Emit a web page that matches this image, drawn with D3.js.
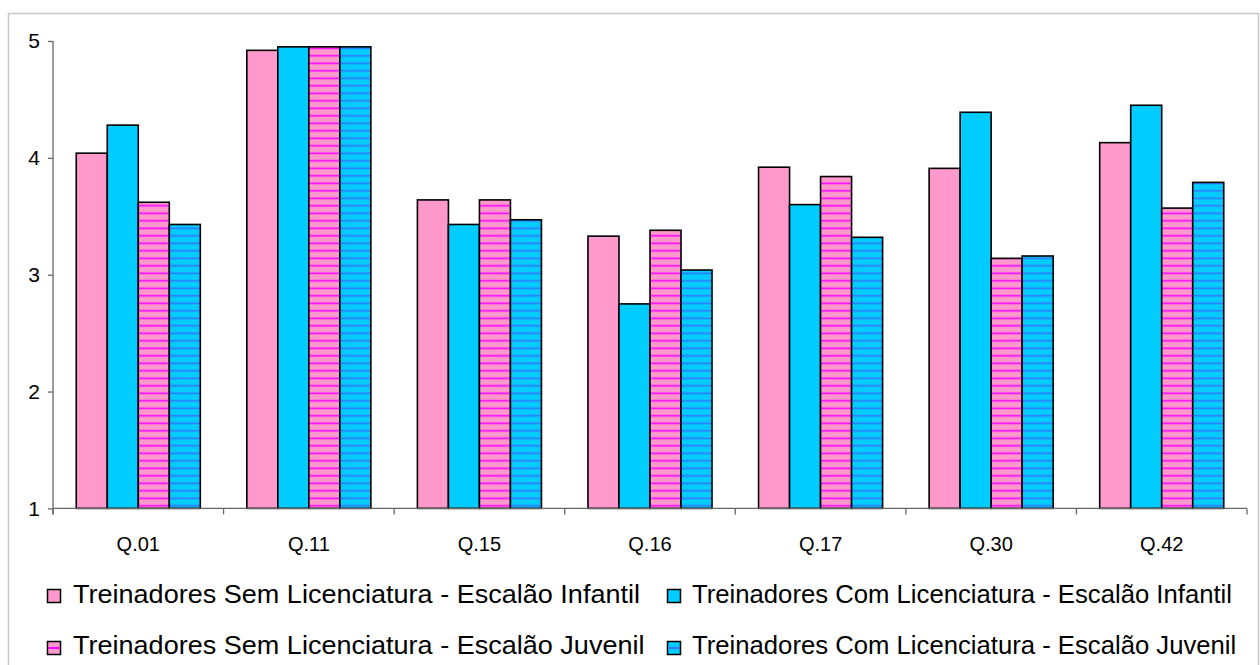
<!DOCTYPE html>
<html>
<head>
<meta charset="utf-8">
<script src="https://cdn.jsdelivr.net/npm/d3@7/dist/d3.min.js"></script>
<style>
  html, body { margin: 0; padding: 0; background: #fff; }
  svg { display: block; font-family: "Liberation Sans", Arial, sans-serif; }
</style>
</head>
<body>
<svg id="chart" width="1260" height="665"></svg>
<script>
// Questions on the x axis
const categories = ["Q.01", "Q.11", "Q.15", "Q.16", "Q.17", "Q.30", "Q.42"];

// Mean scores per group of coaches
const semInfantil = [4.04, 4.92, 3.64, 3.33, 3.92, 3.91, 4.13];
const comInfantil = [4.28, 4.95, 3.43, 2.75, 3.60, 4.39, 4.45];
const semJuvenil  = [3.62, 4.95, 3.64, 3.38, 3.84, 3.14, 3.57];
const comJuvenil  = [3.43, 4.95, 3.47, 3.04, 3.32, 3.16, 3.79];

const seriesNames = [
  "Treinadores Sem Licenciatura - Escalão Infantil",
  "Treinadores Com Licenciatura - Escalão Infantil",
  "Treinadores Sem Licenciatura - Escalão Juvenil",
  "Treinadores Com Licenciatura - Escalão Juvenil"
];

const yTicks = [1, 2, 3, 4, 5];

const series = [
  { key: "s0", name: seriesNames[0], values: semInfantil, fill: "#FF99CC" },
  { key: "s1", name: seriesNames[1], values: comInfantil, fill: "#00CCFF" },
  { key: "s2", name: seriesNames[2], values: semJuvenil,  fill: "url(#stripePink)" },
  { key: "s3", name: seriesNames[3], values: comJuvenil,  fill: "url(#stripeBlue)" }
];

const svg = d3.select("#chart");

// Horizontal stripe patterns for the "Escalão Juvenil" series
const defs = svg.append("defs");
function stripe(id, base, line) {
  const p = defs.append("pattern")
    .attr("id", id)
    .attr("patternUnits", "userSpaceOnUse")
    .attr("width", 8).attr("height", 7.5);
  p.append("rect").attr("width", 8).attr("height", 7.5).attr("fill", base);
  p.append("rect").attr("y", 2.5).attr("width", 8).attr("height", 1.6).attr("fill", line);
}
stripe("stripePink", "#FF99CC", "#FF00FF");
stripe("stripeBlue", "#00CCFF", "#3377FF");

// Outer chart frame
svg.append("rect")
  .attr("x", 8.5).attr("y", 13.5)
  .attr("width", 1250).attr("height", 660)
  .attr("fill", "none")
  .attr("stroke", "#C8C8C8")
  .attr("stroke-width", 1.5);

const x0 = d3.scaleBand().domain(categories).range([53, 1247]).paddingInner(0).paddingOuter(0);
const x1 = d3.scaleBand().domain(series.map(s => s.key)).range([0, x0.bandwidth()])
  .paddingInner(0).paddingOuter(0.75);
const y = d3.scaleLinear().domain([1, 5]).range([508.4, 41]);

// Bars
const groups = svg.append("g").selectAll("g")
  .data(categories)
  .join("g")
  .attr("transform", d => `translate(${x0(d)},0)`);

groups.selectAll("rect")
  .data((c, i) => series.map(s => ({ key: s.key, fill: s.fill, v: s.values[i] })))
  .join("rect")
  .attr("x", d => x1(d.key))
  .attr("width", x1.bandwidth())
  .attr("y", d => y(d.v))
  .attr("height", d => y(1) - y(d.v))
  .attr("fill", d => d.fill)
  .attr("stroke", "#000")
  .attr("stroke-width", 1.6);

// Y axis
const yAxis = svg.append("g")
  .attr("transform", "translate(53,0)")
  .call(d3.axisLeft(y).tickValues(yTicks).tickFormat(d3.format("d")).tickSize(5).tickPadding(8));
yAxis.select(".domain").attr("stroke", "#666").attr("stroke-width", 1.3).attr("d", `M0,${y(5)}V${y(1) + 6}`);
yAxis.selectAll(".tick line").attr("stroke", "#666").attr("stroke-width", 1.3);
yAxis.selectAll(".tick text")
  .attr("font-size", 21)
  .attr("font-family", "Liberation Sans, Arial, sans-serif")
  .attr("fill", "#000");

// X axis: labels centred in each category, ticks on category boundaries
const xAxis = svg.append("g").attr("transform", `translate(0,${y(1)})`);
xAxis.append("line")
  .attr("x1", 53).attr("x2", 1247)
  .attr("stroke", "#666").attr("stroke-width", 1.3);
const bounds = categories.map(c => x0(c)).concat([x0.range()[1]]);
xAxis.selectAll("line.b")
  .data(bounds)
  .join("line")
  .attr("class", "b")
  .attr("x1", d => d).attr("x2", d => d)
  .attr("y1", 0).attr("y2", 6)
  .attr("stroke", "#666").attr("stroke-width", 1.3);
xAxis.selectAll("text")
  .data(categories)
  .join("text")
  .attr("x", d => x0(d) + x0.bandwidth() / 2)
  .attr("y", 43)
  .attr("text-anchor", "middle")
  .attr("font-size", 20)
  .attr("fill", "#000")
  .text(d => d);

// Legend (2 x 2)
const legendPos = [
  { sx: 47.5, sy: 589.5, tx: 73, ty: 603, w: 567 },
  { sx: 667.5, sy: 589.5, tx: 692, ty: 603, w: 540 },
  { sx: 47.5, sy: 641.5, tx: 73, ty: 654, w: 567 },
  { sx: 667.5, sy: 641.5, tx: 692, ty: 654, w: 540 }
];
const baseColors = ["#FF99CC", "#00CCFF", "#FF99CC", "#00CCFF"];
const lineColors = [null, null, "#FF00FF", "#3377FF"];

const legend = svg.append("g").selectAll("g")
  .data(series)
  .join("g");

legend.append("rect")
  .attr("x", (d, i) => legendPos[i].sx)
  .attr("y", (d, i) => legendPos[i].sy)
  .attr("width", 13).attr("height", 13)
  .attr("fill", (d, i) => baseColors[i])
  .attr("stroke", "#000").attr("stroke-width", 1.5);

legend.filter((d, i) => lineColors[i] !== null)
  .append("rect")
  .attr("x", (d) => legendPos[series.indexOf(d)].sx + 0.75)
  .attr("y", (d) => legendPos[series.indexOf(d)].sy + 5.5)
  .attr("width", 11.5).attr("height", 2)
  .attr("fill", d => lineColors[series.indexOf(d)]);

// Legend labels: each column is stretched by one factor, measured on its "Infantil" row
const labels = legend.append("text")
  .attr("x", (d, i) => legendPos[i].tx)
  .attr("y", (d, i) => legendPos[i].ty)
  .attr("font-size", 25)
  .attr("fill", "#000")
  .text(d => d.name);

const natural = labels.nodes().map(n => n.getComputedTextLength());
labels
  .attr("textLength", (d, i) => {
    const col = i % 2;
    const factor = legendPos[col].w / natural[col];
    return natural[i] * factor;
  })
  .attr("lengthAdjust", "spacingAndGlyphs");
</script>
</body>
</html>
